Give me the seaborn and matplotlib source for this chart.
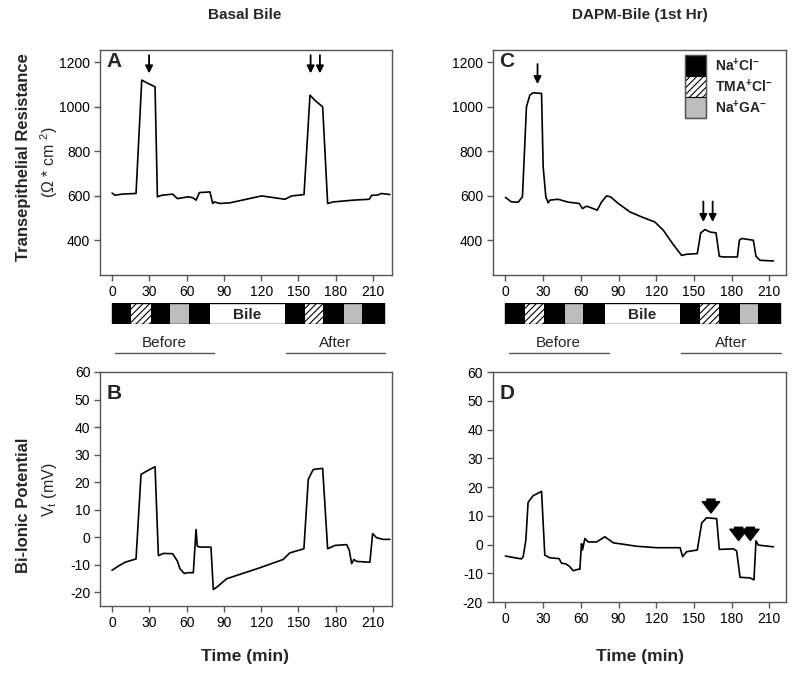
import matplotlib
matplotlib.use('Agg')
import matplotlib.pyplot as plt
import seaborn as sns
from matplotlib.patches import Rectangle

# Panel A - basal bile, transepithelial resistance (ohm*cm2)
a_time = [0, 2.4, 7.8, 19.3, 23.9, 27.9, 34.6, 36.5, 40, 48.8, 52.6, 61.4, 64.9, 67.6,
          70.3, 78.8, 81, 82.3, 86.9, 94.9, 120.4, 139.2, 144.5, 154.5, 159.3, 164.1,
          169.5, 173.5, 178, 194.1, 207, 208.9, 212.9, 217, 223.6]
a_res = [613, 603, 608, 611, 1120, 1108, 1090, 596, 603, 608, 588, 596, 592, 581,
         615, 618, 566, 573, 566, 569, 600, 585, 600, 606, 1052, 1025,
         1000, 566, 573, 581, 585, 603, 603, 611, 606]

# Panel C - DAPM bile, transepithelial resistance
c_time = [0, 4.8, 10.1, 13.5, 16.7, 19.4, 22, 28.7, 30, 32.1, 34, 35.3, 41.9, 49.9,
          58.7, 61.3, 64.5, 68.5, 73, 76.5, 80.5, 83.6, 89.8, 99.1, 108.3, 118.9,
          125.6, 133, 140.2, 144.2, 152.7, 155.4, 158.8, 162.8, 167.6, 170.2, 173.4,
          184.6, 186.2, 188, 197.3, 199.4, 202.6, 213.3]
c_res = [593, 573, 572, 596, 1000, 1053, 1063, 1060, 730, 596, 569, 581, 585, 572,
         566, 543, 554, 546, 536, 573, 600, 596, 566, 528, 506, 483,
         446, 386, 333, 338, 341, 434, 449, 438, 434, 329, 326,
         326, 401, 409, 401, 329, 311, 308]

# Panel B - basal bile, bi-ionic potential (mV)
b_time = [0, 5.1, 10.5, 19.3, 23.3, 27.9, 34.6, 37.3, 41.3, 48.8, 52.6, 54.7, 58.2,
          60.6, 65.4, 67.6, 68.6, 70.8, 79.6, 81.5, 84.7, 92.2, 119, 137.7, 143.1,
          154.4, 157.9, 161.9, 169.5, 173.5, 179.4, 188.8, 190.9, 192.8, 194.7,
          196.8, 207.5, 209.7, 212.9, 218.3, 223.6]
b_vt = [-12, -10.5, -9.1, -7.9, 22.8, 24, 25.6, -6.7, -5.9, -6, -8.7, -11.5, -13.2,
        -12.9, -12.9, 2.8, -3.3, -3.6, -3.6, -19, -18, -15.1, -11.1, -8.1, -5.7,
        -4.2, 21, 24.6, 25, -4.2, -3, -2.7, -4.7, -9.6, -8.1,
        -8.8, -9.1, 1.3, -0.2, -0.8, -0.8]

# Panel D - DAPM bile, bi-ionic potential
d_time = [0, 6.1, 12.7, 14.1, 16.2, 18, 22, 28.7, 31.3, 35.3, 42.7, 44.6, 48, 51.2,
          53.9, 57.9, 59.2, 60.5, 61.3, 63.2, 65.9, 72.5, 79.1, 85.8, 93.7, 104.4,
          120.3, 139, 141, 144.2, 152.7, 156.2, 160.1, 168.1, 170.2, 181.4, 184,
          186.7, 194.6, 197.8, 199.4, 201.3, 213.3]
d_vt = [-4, -4.5, -5, -4.2, 1.5, 14.7, 17, 18.5, -3.7, -4.6, -4.9, -6.5, -6.7, -7.7,
        -9.1, -8.6, -8.6, 0.3, -1.9, 2.1, 0.9, 0.9, 2.7, 0.6, 0.1, -0.6,
        -1.1, -1.1, -4.2, -2.5, -1.9, 7.5, 9.3, 9, -1.7, -1.5, -2.2,
        -11.4, -11.6, -12.3, 1.3, -0.2, -0.8]

# solution bar under the top panels
seg_start = [0, 15.5, 31, 47, 62, 79, 139, 155, 170, 186.5, 201]
seg_end = [15.5, 31, 47, 62, 79, 139, 155, 170, 186.5, 201, 218.5]
seg_kind = ['NaCl', 'TMA', 'NaCl', 'NaGA', 'NaCl', 'Bile', 'NaCl', 'TMA', 'NaCl', 'NaGA', 'NaCl']

# arrow positions (min)
a_arrows = [29.8, 159.8, 167.3]
c_arrows = [25.5, 157.5, 164.9]
d_arrows = [163.6, 185.6, 194.9]

sns.set_theme(style='ticks')
plt.rcParams['font.family'] = ['Liberation Sans', 'DejaVu Sans']
plt.rcParams['mathtext.fontset'] = 'custom'
plt.rcParams['mathtext.rm'] = 'Liberation Sans'
plt.rcParams['mathtext.bf'] = 'Liberation Sans:bold'
plt.rcParams['hatch.linewidth'] = 0.8
plt.rcParams['axes.unicode_minus'] = False

GRID = '#555555'
fig = plt.figure(figsize=(8, 6.75), dpi=100)

ax_a = fig.add_axes([0.125, 0.5926, 0.365, 0.3333])
ax_c = fig.add_axes([0.616, 0.5926, 0.3665, 0.3333])
ax_b = fig.add_axes([0.125, 0.1022, 0.365, 0.3467])
ax_d = fig.add_axes([0.616, 0.1081, 0.3665, 0.3407])
strip_a = fig.add_axes([0.125, 0.52, 0.365, 0.0311])
strip_c = fig.add_axes([0.616, 0.52, 0.3665, 0.0311])

panels = [(ax_a, a_time, a_res, 'A'), (ax_c, c_time, c_res, 'C'),
          (ax_b, b_time, b_vt, 'B'), (ax_d, d_time, d_vt, 'D')]
for ax, t, y, letter in panels:
    sns.lineplot(x=t, y=y, ax=ax, color='black', lw=1.2, sort=False, estimator=None)
    ax.set_xticks(range(0, 211, 30))
    for sp in ax.spines.values():
        sp.set_color(GRID)
        sp.set_linewidth(1)
    ax.tick_params(direction='out', length=4, width=1, color=GRID, labelsize=10,
                   labelcolor='black', pad=3)
    ypos = 0.99 if letter in 'AC' else 0.95
    ax.text(0.022, ypos, letter, transform=ax.transAxes, fontsize=15,
            fontweight='bold', va='top')

for ax in (ax_a, ax_b, strip_a):
    ax.set_xlim(-9.7, 225.3)
for ax in (ax_c, ax_d, strip_c):
    ax.set_xlim(-10.1, 223.3)
for ax in (ax_a, ax_c):
    ax.set_ylim(245, 1255)
    ax.set_yticks([400, 600, 800, 1000, 1200])
ax_b.set_ylim(-25, 60)
ax_d.set_ylim(-20, 60)
for ax in (ax_b, ax_d):
    ax.set_yticks(range(-20, 61, 10))

# arrows
thin = dict(arrowstyle='-|>', color='black', lw=1.3, mutation_scale=11, shrinkA=0, shrinkB=0)
fat = dict(arrowstyle='simple,head_width=1.4,head_length=0.9,tail_width=0.65',
           color='black', mutation_scale=9, shrinkA=0, shrinkB=0)
for x in a_arrows:
    ax_a.annotate('', xy=(x, 1150), xytext=(x, 1232), arrowprops=thin)
ax_c.annotate('', xy=(c_arrows[0], 1102), xytext=(c_arrows[0], 1192), arrowprops=thin)
for x in c_arrows[1:]:
    ax_c.annotate('', xy=(x, 483), xytext=(x, 575), arrowprops=thin)
ax_d.annotate('', xy=(d_arrows[0], 11.0), xytext=(d_arrows[0], 15.8), arrowprops=fat)
for x in d_arrows[1:]:
    ax_d.annotate('', xy=(x, 1.4), xytext=(x, 6.0), arrowprops=fat)

# legend in panel C
leg_fill = {'NaCl': ('black', ''), 'TMA': ('white', '/////'), 'NaGA': ('#bdbdbd', '')}
leg_text = [r'$\mathbf{Na^{+}Cl^{-}}$', r'$\mathbf{TMA^{+}Cl^{-}}$', r'$\mathbf{Na^{+}GA^{-}}$']
for i, key in enumerate(['NaCl', 'TMA', 'NaGA']):
    y0 = 0.884 - i * 0.094
    fc, h = leg_fill[key]
    ax_c.add_patch(Rectangle((0.655, y0), 0.0706, 0.094, transform=ax_c.transAxes,
                             facecolor=fc, hatch=h, edgecolor='black', lw=0.8))
    ax_c.text(0.758, y0 + 0.047, leg_text[i], transform=ax_c.transAxes, fontsize=10,
              va='center', ha='left')
ax_c.add_patch(Rectangle((0.655, 0.696), 0.0706, 0.282, transform=ax_c.transAxes,
                         fill=False, edgecolor=GRID, lw=1))

# solution strips with before / after markers
colors = {'NaCl': 'black', 'TMA': 'white', 'NaGA': '#bdbdbd', 'Bile': 'white'}
for strip in (strip_a, strip_c):
    for s, e, k in zip(seg_start, seg_end, seg_kind):
        strip.broken_barh([(s, e - s)], (0, 1), facecolors=colors[k],
                          hatch='/////' if k == 'TMA' else None,
                          edgecolor='black', linewidth=0)
    strip.broken_barh([(seg_start[0], seg_end[-1] - seg_start[0])], (0, 1),
                      facecolors='none', edgecolor='black', linewidth=1)
    bile = seg_kind.index('Bile')
    strip.text((seg_start[bile] + seg_end[bile]) / 2, 0.45, 'Bile', ha='center',
               va='center', fontsize=11, fontweight='bold')
    strip.set_ylim(0, 1)
    strip.axis('off')
    tr = strip.get_xaxis_transform()
    for lo, hi, lab in [(2.4, 82.3, 'Before'), (140, 219.5, 'After')]:
        strip.plot([lo, hi], [-1.36, -1.36], color=GRID, lw=1, transform=tr, clip_on=False)
        strip.text((lo + hi) / 2, -0.9, lab, transform=tr, ha='center', va='center',
                   fontsize=11)

# titles and axis labels
fig.text(0.306, 0.978, 'Basal Bile', ha='center', va='center', fontsize=11, fontweight='bold')
fig.text(0.8, 0.978, 'DAPM-Bile (1st Hr)', ha='center', va='center', fontsize=11,
         fontweight='bold')
fig.text(0.03, 1 - 157 / 675, 'Transepithelial Resistance', rotation=90, ha='center',
         va='center', fontsize=12, fontweight='bold')
fig.text(0.062, 1 - 162 / 675, r'($\Omega$ * cm $^\mathregular{2}$)', rotation=90,
         ha='center', va='center', fontsize=11.5)
fig.text(0.03, 1 - 505 / 675, 'Bi-Ionic Potential', rotation=90, ha='center',
         va='center', fontsize=12, fontweight='bold')
fig.text(0.062, 1 - 490 / 675, r'V$_\mathregular{t}$ (mV)', rotation=90, ha='center',
         va='center', fontsize=11.5)
fig.text(0.306, 1 - 656 / 675, 'Time (min)', ha='center', va='center', fontsize=12.5,
         fontweight='bold')
fig.text(0.8, 1 - 656 / 675, 'Time (min)', ha='center', va='center', fontsize=12.5,
         fontweight='bold')

fig.savefig('out.png', dpi=100)
